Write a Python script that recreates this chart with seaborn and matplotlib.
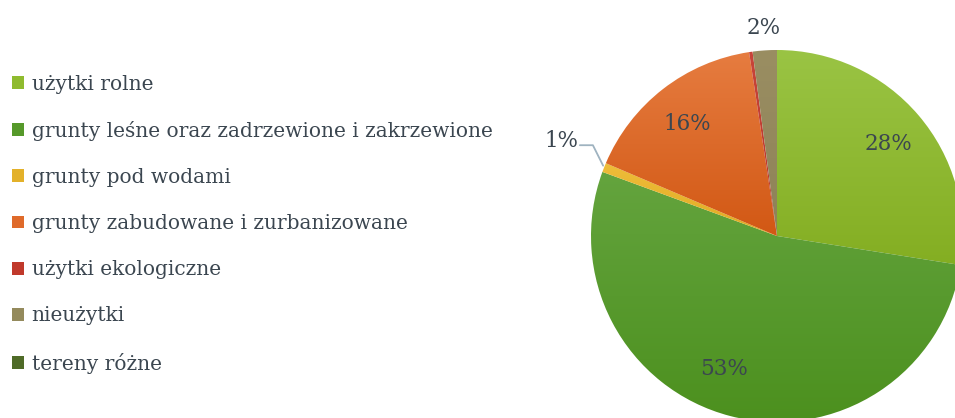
import numpy as np
import seaborn as sns
import matplotlib.pyplot as plt
from matplotlib.patches import Patch
from matplotlib.colors import to_rgb

categories = [
    "użytki rolne",
    "grunty leśne oraz zadrzewione i zakrzewione",
    "grunty pod wodami",
    "grunty zabudowane i zurbanizowane",
    "użytki ekologiczne",
    "nieużytki",
    "tereny różne",
]
shares = [27.5, 53.1, 0.8, 16.2, 0.3, 2.1, 0.0]
labels = ["28%", "53%", "1%", "16%", "", "2%", ""]

# top / bottom of the vertical gradient for each slice
top_colors = ["#9ac444", "#64a43e", "#eebd3a", "#e67c40", "#c8453a", "#9a8e62", "#5a7a30"]
bottom_colors = ["#84ae22", "#4c901e", "#e0aa22", "#d25814", "#b83428", "#8e8258", "#4c6a22"]
legend_colors = ["#8fbb2f", "#56992a", "#e3b12a", "#df6a2a", "#c0392b", "#948a5c", "#4f6b28"]

TEXT = "#3b4650"

sns.set_theme(style="white")
plt.rcParams["font.family"] = ["DejaVu Serif"]

fig = plt.figure(figsize=(9.55, 4.18), dpi=100)
W, H = 955, 418
cx, cy, r = 777, 236, 186
ax = fig.add_axes([(cx - r) / W, (H - cy - r) / H, 2 * r / W, 2 * r / H])

wedges, _ = ax.pie(shares, radius=1, startangle=90, counterclock=False,
                   colors=legend_colors, wedgeprops=dict(linewidth=0))

grad = np.linspace(0, 1, 256)[:, None]
for w, c0, c1 in zip(wedges, top_colors, bottom_colors):
    a, b = np.array(to_rgb(c0)), np.array(to_rgb(c1))
    img = a[None, None, :] * (1 - grad[..., None]) + b[None, None, :] * grad[..., None]
    img = np.repeat(img, 2, axis=1)
    bb = w.get_path().get_extents(w.get_patch_transform())
    im = ax.imshow(img, extent=[bb.x0, bb.x1, bb.y0, bb.y1], origin="upper",
                   aspect="auto", zorder=2)
    im.set_clip_path(w)
    w.set_facecolor("none")
ax.set_xlim(-1, 1)
ax.set_ylim(-1, 1)
ax.set_aspect("equal")
ax.axis("off")

for w, lab in zip(wedges, labels):
    if not lab:
        continue
    mid = (w.theta1 + w.theta2) / 2
    ang = np.deg2rad(mid)
    if lab == "2%":
        ax.text(1.13 * np.cos(ang), 1.12 * np.sin(ang), lab, ha="center", va="center",
                fontsize=15.5, color=TEXT, zorder=5, clip_on=False)
    elif lab == "1%":
        ex, ey = np.cos(ang), np.sin(ang)
        tx, ty = ex - 0.13, ey + 0.12
        ax.plot([ex - 0.005, tx + 0.07, tx], [ey + 0.01, ty, ty], color="#9fb3c0",
                lw=1.3, clip_on=False, zorder=5)
        ax.text(tx - 0.01, ty + 0.02, lab, ha="right", va="center", fontsize=15.5,
                color=TEXT, zorder=5, clip_on=False)
    elif lab == "53%":
        ang = np.deg2rad(mid - 7)
        ax.text(0.77 * np.cos(ang), 0.77 * np.sin(ang), lab, ha="center",
                va="center", fontsize=15.5, color=TEXT, zorder=5)
    else:
        ax.text(0.79 * np.cos(ang), 0.79 * np.sin(ang) - 0.02, lab, ha="center",
                va="center", fontsize=15.5, color=TEXT, zorder=5)

handles = [Patch(facecolor=c, edgecolor="none") for c in legend_colors]
fig.legend(handles, categories, loc="upper left", bbox_to_anchor=(-0.006, 0.865),
           frameon=False, fontsize=14.5, labelcolor=TEXT, handlelength=0.6,
           handleheight=0.6, handletextpad=0.35, labelspacing=1.35, borderaxespad=0.5)

fig.savefig("out.png", dpi=100)
